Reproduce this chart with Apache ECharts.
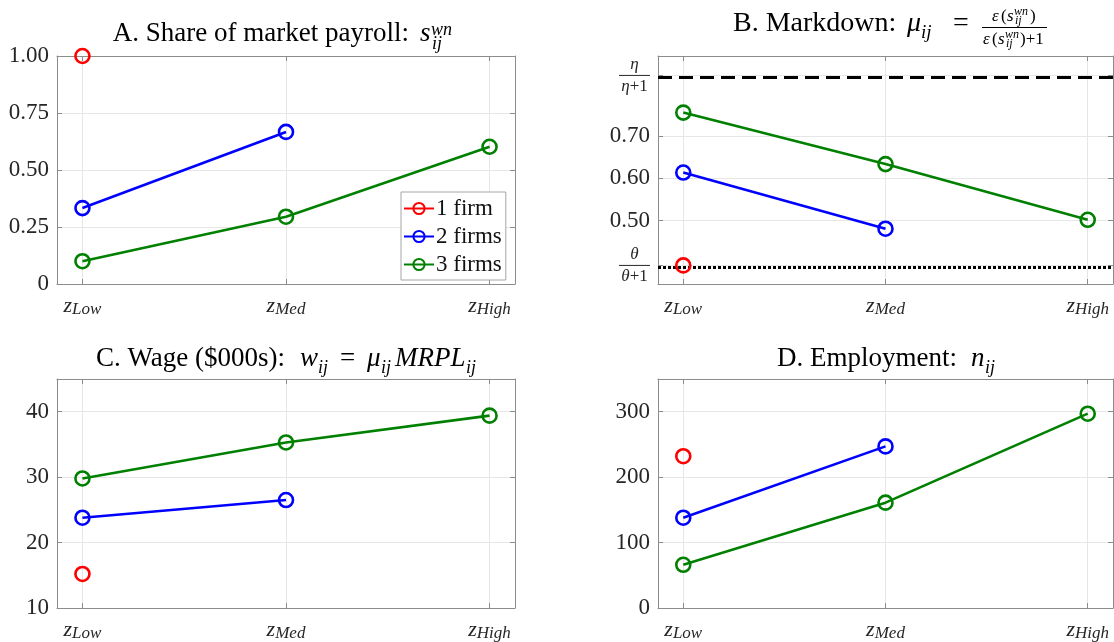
<!DOCTYPE html>
<html>
<head>
<meta charset="utf-8">
<script src="https://cdn.jsdelivr.net/npm/echarts@6/dist/echarts.min.js"></script>
<style>
  html, body { margin: 0; padding: 0; background: #fff; }
  #chart { width: 1114px; height: 642px; }
</style>
</head>
<body>
<div id="chart"></div>
<script>
// x categories (productivity levels) and their positions
const zLevels = ['Low', 'Med', 'High'];
const xPos = [1, 2, 3];
const seriesNames = ['1 firm', '2 firms', '3 firms'];
const seriesColors = ['#ff0000', '#0000ff', '#008000'];

// A. share of market payroll
const shareOne = [1.00];
const shareTwo = [0.333, 0.667];
const shareThree = [0.100, 0.295, 0.602];

// B. markdown, with the two limits
const etaBound = 0.844;
const thetaBound = 0.394;
const markdownOne = [0.394];
const markdownTwo = [0.614, 0.481];
const markdownThree = [0.756, 0.634, 0.502];

// C. wage ($000s)
const wageOne = [15.2];
const wageTwo = [23.8, 26.5];
const wageThree = [29.8, 35.3, 39.4];

// D. employment
const empOne = [232];
const empTwo = [138, 247];
const empThree = [66, 161, 297];

// tick values
const yTicksA = [0, 0.25, 0.5, 0.75, 1];
const yTicksB = [thetaBound, 0.5, 0.6, 0.7, etaBound];
const yTicksC = [10, 20, 30, 40];
const yTicksD = [0, 100, 200, 300];

const FONT = 'Liberation Serif';
const axisGray = '#8c8c8c';
const gridGray = '#e6e6e6';
const labelColor = '#262626';

const chart = echarts.init(document.getElementById('chart'));

const fracLabel = (sym) => '{fi|' + sym + '}\n{fb| }\n{fi|' + sym + '}{fu|+1}';

const panels = [
    { grid: { left: 57, top: 56, width: 458, height: 228 }, min: 0, max: 1, ticks: yTicksA,
      fmt: v => v === 0 ? '0' : v.toFixed(2), data: [shareOne, shareTwo, shareThree] },
    { grid: { left: 658, top: 56, width: 455, height: 228 }, min: 0.35, max: 0.89, ticks: yTicksB,
      fmt: v => Math.abs(v - etaBound) < 1e-6 ? fracLabel('η') : (Math.abs(v - thetaBound) < 1e-6 ? fracLabel('θ') : v.toFixed(2)),
      data: [markdownOne, markdownTwo, markdownThree] },
    { grid: { left: 57, top: 379, width: 458, height: 229 }, min: 10, max: 45, ticks: yTicksC,
      fmt: v => String(v), data: [wageOne, wageTwo, wageThree] },
    { grid: { left: 658, top: 379, width: 455, height: 229 }, min: 0, max: 350, ticks: yTicksD,
      fmt: v => String(v), data: [empOne, empTwo, empThree] }
];

const grids = [], xAxes = [], yAxes = [], series = [];

panels.forEach((p, i) => {
    grids.push(p.grid);
    const line = { show: true, onZero: false, lineStyle: { color: axisGray, width: 1 } };
    // bottom x axis with labels
    xAxes.push({
        type: 'value', gridIndex: i, min: 0.875, max: 3.125,
        axisLine: line,
        axisTick: { show: true, inside: true, length: 5, customValues: xPos, lineStyle: { color: axisGray } },
        axisLabel: {
            customValues: xPos, margin: 10,
            formatter: v => '{z|z}{s|' + zLevels[Math.round(v) - 1] + '}',
            rich: {
                z: { fontFamily: FONT, fontStyle: 'italic', fontSize: 22, lineHeight: 24, color: labelColor, verticalAlign: 'middle' },
                s: { fontFamily: FONT, fontStyle: 'italic', fontSize: 17, lineHeight: 10, color: labelColor, verticalAlign: 'bottom' }
            }
        },
        splitLine: { show: true, lineStyle: { color: gridGray } }
    });
    // top x axis, box only
    xAxes.push({
        type: 'value', gridIndex: i, position: 'top', min: 0.875, max: 3.125,
        axisLine: line,
        axisTick: { show: true, inside: true, length: 5, customValues: xPos, lineStyle: { color: axisGray } },
        axisLabel: { show: false }, splitLine: { show: false }
    });
    // left y axis with labels
    yAxes.push({
        type: 'value', gridIndex: i, min: p.min, max: p.max,
        axisLine: line,
        axisTick: { show: true, inside: true, length: 5, customValues: p.ticks, lineStyle: { color: axisGray } },
        axisLabel: {
            customValues: p.ticks, margin: 8, color: labelColor,
            fontFamily: FONT, fontSize: 23,
            formatter: p.fmt,
            rich: {
                fi: { fontFamily: FONT, fontStyle: 'italic', fontSize: 17, lineHeight: 21, color: labelColor, align: 'center' },
                fu: { fontFamily: FONT, fontSize: 17, lineHeight: 21, color: labelColor, align: 'center' },
                fb: { width: 31, height: 1, fontSize: 1, lineHeight: 1, backgroundColor: labelColor }
            }
        },
        splitLine: { show: true, lineStyle: { color: gridGray } }
    });
    // right y axis, box only
    yAxes.push({
        type: 'value', gridIndex: i, position: 'right', min: p.min, max: p.max,
        axisLine: line,
        axisTick: { show: true, inside: true, length: 5, customValues: p.ticks, lineStyle: { color: axisGray } },
        axisLabel: { show: false }, splitLine: { show: false }
    });

    p.data.forEach((vals, k) => {
        const s = {
            type: 'line', name: seriesNames[k],
            xAxisIndex: 2 * i, yAxisIndex: 2 * i,
            data: vals.map((v, j) => [xPos[j], v]),
            symbol: 'circle', symbolSize: 14, showSymbol: true,
            lineStyle: { color: seriesColors[k], width: 2.6 },
            itemStyle: { color: 'rgba(255,255,255,0)', borderColor: seriesColors[k], borderWidth: 2.6 },
            emphasis: { disabled: true },
            z: k === 0 ? 5 : 3
        };
        // limits of the markdown in panel B
        if (i === 1 && k === 2) {
            s.markLine = {
                silent: true, symbol: 'none', label: { show: false }, z: 2,
                data: [
                    { yAxis: etaBound, lineStyle: { color: '#000', width: 3, type: [14, 7], cap: 'butt' } },
                    { yAxis: thetaBound, lineStyle: { color: '#000', width: 3, type: [3, 2], cap: 'butt' } }
                ]
            };
        }
        series.push(s);
    });
});

// title pieces: text, x, baseline, size, italic, align
function piece(text, x, base, size, italic, align) {
    return {
        type: 'text', silent: true, x: x, y: base - 0.34 * size,
        style: {
            text: text, fill: '#000', fontFamily: FONT, fontSize: size,
            fontStyle: italic ? 'italic' : 'normal',
            align: align || 'left', verticalAlign: 'middle'
        }
    };
}

const titles = [
    // A
    piece('A. Share of market payroll:', 409, 43, 27, false, 'right'),
    piece('s', 420, 43, 27, true),
    piece('wn', 431, 36, 18, true),
    piece('ij', 432, 50, 18, true),
    // B
    piece('B. Markdown:', 733, 33, 28, false),
    piece('μ', 907, 33, 28, true),
    piece('ij', 921, 39, 19, true),
    piece('=', 953, 33, 28, false),
    piece('ε', 992, 22, 17, true),
    piece('(', 1001, 22, 17, false),
    piece('s', 1007, 22, 17, true),
    piece('wn', 1014, 16, 12, true),
    piece('ij', 1015, 25, 12, true),
    piece(')', 1030, 22, 17, false),
    piece('ε', 983, 45, 17, true),
    piece('(', 992, 45, 17, false),
    piece('s', 998, 45, 17, true),
    piece('wn', 1005, 39, 12, true),
    piece('ij', 1006, 48, 12, true),
    piece(')+1', 1020, 45, 17, false),
    { type: 'line', silent: true, shape: { x1: 982, y1: 27.5, x2: 1047, y2: 27.5 }, style: { stroke: '#000', lineWidth: 1 } },
    // C
    piece('C. Wage ($000s):', 96, 368, 27, false),
    piece('w', 300, 368, 27, true),
    piece('ij', 318, 374, 18, true),
    piece('=', 340, 368, 27, false),
    piece('μ', 367, 368, 27, true),
    piece('ij', 381, 374, 18, true),
    piece('MRPL', 395, 368, 27, true),
    piece('ij', 466, 374, 18, true),
    // D
    piece('D. Employment:', 777, 368, 27, false),
    piece('n', 971, 368, 27, true),
    piece('ij', 985, 374, 18, true)
];

chart.setOption({
    animation: false,
    backgroundColor: '#fff',
    grid: grids,
    xAxis: xAxes,
    yAxis: yAxes,
    legend: {
        data: seriesNames,
        orient: 'vertical',
        left: 401, top: 192,
        itemWidth: 30, itemHeight: 14, itemGap: 5,
        padding: [5, 4, 4, 2],
        borderColor: '#a6a6a6', borderWidth: 1, borderRadius: 0,
        backgroundColor: '#fff',
        selectedMode: false,
        textStyle: { fontFamily: FONT, fontSize: 23, lineHeight: 22, color: '#111', padding: [0, 0, 0, -3] }
    },
    graphic: titles,
    series: series
});
</script>
</body>
</html>
